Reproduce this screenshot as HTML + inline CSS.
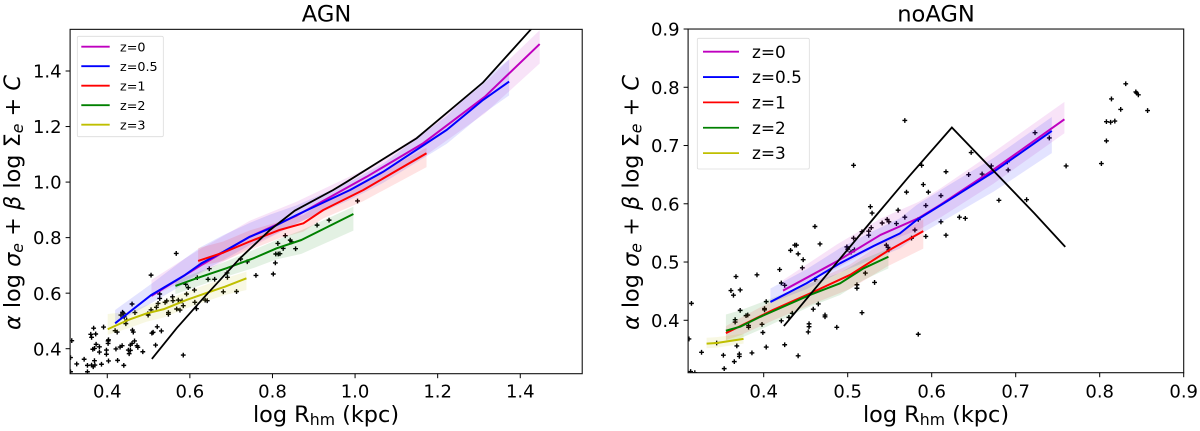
<!DOCTYPE html>
<html>
<head>
<meta charset="utf-8">
<title>AGN and noAGN scaling relations</title>
<style>
html,body{margin:0;padding:0;background:#fff;width:1200px;height:431px;overflow:hidden}
svg{display:block;font-family:"DejaVu Sans","Liberation Sans",sans-serif;fill:#000}
.it{font-style:italic}
</style>
</head>
<body>
<svg id="chart" width="1200" height="431" viewBox="0 0 1200 431" xmlns="http://www.w3.org/2000/svg">
<defs>
<clipPath id="clip-agn"><rect x="70" y="29" width="512.5" height="344.7"/></clipPath>
<clipPath id="clip-noagn"><rect x="688.3" y="29" width="496.7" height="343.7"/></clipPath>
</defs>
<rect width="1200" height="431" fill="#fff"/>
<g id="agn-panel"></g>
<g id="noagn-panel"></g>
<text x="326.5" y="21.7" font-size="22.6" text-anchor="middle">AGN</text>
<text x="936" y="21.7" font-size="22.6" text-anchor="middle">noAGN</text>
<text x="326" y="422" font-size="22.4" text-anchor="middle">log R<tspan font-size="15.7" dy="3">hm</tspan><tspan dy="-3"> (kpc)</tspan></text>
<text x="936" y="422" font-size="22.4" text-anchor="middle">log R<tspan font-size="15.7" dy="3">hm</tspan><tspan dy="-3"> (kpc)</tspan></text>
<text transform="translate(20,202.5) rotate(-90)" font-size="22.4" text-anchor="middle"><tspan class="it">α</tspan> log <tspan class="it">σ</tspan><tspan font-size="15.7" dy="3" class="it">e</tspan><tspan dy="-3"> + </tspan><tspan class="it">β</tspan> log Σ<tspan font-size="15.7" dy="3" class="it">e</tspan><tspan dy="-3"> + </tspan><tspan class="it">C</tspan></text>
<text transform="translate(638.3,202.5) rotate(-90)" font-size="22.4" text-anchor="middle"><tspan class="it">α</tspan> log <tspan class="it">σ</tspan><tspan font-size="15.7" dy="3" class="it">e</tspan><tspan dy="-3"> + </tspan><tspan class="it">β</tspan> log Σ<tspan font-size="15.7" dy="3" class="it">e</tspan><tspan dy="-3"> + </tspan><tspan class="it">C</tspan></text>
</svg>
<script>
const seriesLabels = ["z=0","z=0.5","z=1","z=2","z=3"];
const seriesColors = ["#bf00bf","#0000ff","#ff0000","#008000","#bfbf00"];

const agnXTicks = [0.4,0.6,0.8,1.0,1.2,1.4];
const agnYTicks = [0.4,0.6,0.8,1.0,1.2,1.4];
const noagnXTicks = [0.4,0.5,0.6,0.7,0.8,0.9];
const noagnYTicks = [0.4,0.5,0.6,0.7,0.8,0.9];

/* each vertex: x, y, band above, band below */
const agnZ0 = [[.507,.59,.058,.002],[.588,.665,.06,.02],[.628,.7015,.06,.03],[.745,.803,.058,.04],[.858,.879,.05,.03],[1.028,1.019,.03,.04],[1.165,1.14,.04,.05],[1.314,1.307,.05,.06],[1.447,1.497,.05,.07]];
const agnZ05 = [[.419,.4915,.048,0],[.507,.594,.04,.03],[.588,.665,.06,.03],[.628,.7075,.06,.03],[.681,.749,.06,.03],[.745,.803,.05,.03],[.794,.833,.05,.03],[.858,.881,.035,.03],[.988,.9715,.03,.035],[1.068,1.037,.03,.04],[1.222,1.188,.05,.05],[1.31,1.296,.07,.05],[1.373,1.362,.08,.05]];
const agnZ1 = [[.62,.716,.046,.02],[.681,.746,.04,.03],[.745,.786,.04,.03],[.818,.828,.03,.03],[.875,.8515,.03,.03],[.923,.8995,.03,.03],[1.02,.9715,.03,.04],[1.173,1.104,.02,.05]];
const agnZ2 = [[.565,.626,.02,.03],[.616,.6535,.02,.03],[.689,.69,.025,.03],[.754,.7255,.03,.035],[.81,.7615,.03,.04],[.87,.7915,.035,.05],[.996,.885,.026,.06]];
const agnZ3 = [[.401,.47,.055,.02],[.45,.503,.03,.03],[.495,.527,.03,.03],[.536,.542,.03,.03],[.592,.5755,.03,.03],[.649,.6055,.03,.03],[.685,.6235,.03,.03],[.737,.6535,.024,.042]];
const agnBlack = [[.508,.363],[.568,.474],[.632,.581],[.721,.725],[.794,.8275],[.854,.897],[.947,.9715],[.98,1.001],[1.149,1.158],[1.31,1.359],[1.45,1.59]];

const noagnZ0 = [[.423,.451,.018,.002],[.487,.501,.029,.012],[.539,.5465,.028,.016],[.584,.575,.028,.02],[.61,.598,.028,.022],[.673,.658,.03,.024],[.758,.745,.03,.024]];
const noagnZ05 = [[.408,.4315,.023,.002],[.451,.4635,.024,.01],[.491,.498,.026,.016],[.531,.5276,.026,.022],[.562,.549,.026,.026],[.582,.572,.026,.028],[.618,.604,.026,.03],[.674,.655,.024,.034],[.743,.725,.024,.038]];
const noagnZ1 = [[.355,.378,.012,.012],[.372,.39,.014,.016],[.4115,.418,.016,.018],[.455,.446,.018,.02],[.503,.478,.018,.024],[.5465,.518,.02,.026],[.59,.553,.02,.03]];
const noagnZ2 = [[.355,.382,.028,.018],[.372,.389,.028,.02],[.396,.406,.024,.022],[.455,.4435,.02,.02],[.491,.4635,.018,.02],[.5187,.489,.016,.02],[.5485,.509,.014,.02]];
const noagnZ3 = [[.332,.36,.01,.008],[.344,.361,.01,.008],[.376,.368,.009,.008]];
const noagnBlack = [[.424,.39],[.535,.582],[.573,.647],[.624,.731],[.722,.584],[.759,.526]];

const agnPoints = [[.314,.429],[.311,.368],[.326,.345],[.344,.362],[.352,.34],[.352,.317],[.362,.341],[.311,.317],[.367,.474],[.36,.452],[.372,.453],[.362,.441],[.391,.478],[.373,.416],[.381,.407],[.365,.398],[.369,.401],[.381,.388],[.398,.395],[.398,.38],[.402,.419],[.403,.432],[.402,.428],[.421,.399],[.431,.406],[.436,.411],[.369,.357],[.37,.341],[.366,.335],[.386,.344],[.403,.356],[.425,.358],[.44,.34],[.419,.465],[.424,.46],[.461,.467],[.463,.46],[.466,.428],[.46,.419],[.456,.413],[.451,.395],[.456,.394],[.453,.382],[.472,.411],[.474,.405],[.486,.389],[.433,.521],[.439,.527],[.437,.531],[.441,.515],[.445,.49],[.447,.503],[.46,.561],[.467,.53],[.498,.526],[.499,.521],[.508,.456],[.511,.459],[.521,.479],[.531,.464],[.517,.413],[.506,.665],[.506,.54],[.527,.597],[.527,.581],[.519,.549],[.523,.563],[.54,.567],[.544,.572],[.548,.53],[.548,.524],[.559,.573],[.558,.587],[.572,.575],[.568,.543],[.576,.539],[.581,.572],[.584,.555],[.592,.597],[.596,.62],[.59,.632],[.611,.611],[.616,.544],[.612,.567],[.567,.743],[.584,.377],[.618,.656],[.647,.688],[.644,.65],[.637,.575],[.642,.573],[.66,.65],[.681,.605],[.69,.673],[.691,.657],[.713,.606],[.723,.723],[.739,.713],[.76,.664],[.802,.669],[.807,.709],[.813,.779],[.808,.741],[.814,.741],[.818,.742],[.826,.761],[.831,.807],[.843,.791],[.846,.785],[.856,.76],[.908,.845],[.937,.863],[1.006,.932]];

const noagnPoints = [[.314,.429],[.311,.368],[.326,.345],[.313,.312],[.318,.31],[.344,.361],[.352,.34],[.353,.317],[.365,.329],[.371,.338],[.371,.342],[.368,.356],[.386,.344],[.403,.354],[.425,.358],[.441,.339],[.366,.397],[.366,.401],[.372,.417],[.379,.408],[.381,.409],[.382,.388],[.382,.391],[.398,.393],[.399,.379],[.401,.42],[.401,.418],[.403,.432],[.361,.451],[.364,.443],[.367,.475],[.372,.452],[.392,.478],[.419,.487],[.421,.464],[.425,.46],[.421,.399],[.43,.405],[.434,.412],[.432,.52],[.437,.529],[.439,.529],[.441,.514],[.447,.504],[.446,.49],[.461,.561],[.467,.531],[.459,.419],[.465,.428],[.461,.47],[.454,.394],[.454,.389],[.453,.38],[.473,.409],[.473,.406],[.487,.388],[.499,.526],[.5,.522],[.504,.517],[.508,.521],[.507,.541],[.511,.461],[.511,.455],[.521,.481],[.532,.465],[.517,.413],[.517,.552],[.525,.553],[.525,.546],[.528,.559],[.541,.567],[.547,.573],[.549,.569],[.558,.566],[.568,.577],[.546,.529],[.548,.525],[.549,.521],[.507,.666],[.568,.743],[.527,.595],[.529,.584],[.56,.589],[.57,.62],[.588,.666],[.59,.633],[.596,.62],[.593,.597],[.611,.614],[.617,.655],[.647,.688],[.644,.65],[.66,.651],[.671,.665],[.68,.606],[.69,.672],[.691,.658],[.713,.607],[.723,.722],[.74,.713],[.76,.665],[.802,.669],[.808,.708],[.808,.741],[.813,.74],[.818,.742],[.814,.78],[.825,.762],[.831,.806],[.843,.792],[.844,.79],[.846,.787],[.857,.76],[.576,.541],[.58,.555],[.584,.573],[.593,.544],[.611,.569],[.617,.546],[.633,.577],[.64,.575],[.584,.376]];

const NS = "http://www.w3.org/2000/svg";

function make(tag, parent) {
  const el = document.createElementNS(NS, tag);
  parent.appendChild(el);
  return el;
}

function drawPanel(cfg) {
  const root = document.getElementById(cfg.id);
  const sx = v => cfg.x0 + (v - cfg.xMin) * cfg.kx;
  const sy = v => cfg.y0 - (v - cfg.yMin) * cfg.ky;
  const left = sx(cfg.xMin), right = sx(cfg.xMax);
  const bottom = sy(cfg.yMin), top = sy(cfg.yMax);

  const plot = make("g", root);
  plot.setAttribute("clip-path", "url(#" + cfg.clip + ")");
  
  

  cfg.points.forEach(p => {
    const m = make("path", plot);
    const cx = sx(p[0]), cy = sy(p[1]);
    m.setAttribute("d", "M" + (cx - 2.4) + " " + cy + "H" + (cx + 2.4) + "M" + cx + " " + (cy - 2.4) + "V" + (cy + 2.4));
    m.setAttribute("stroke", "#000");
    m.setAttribute("stroke-width", "1.4");
    m.setAttribute("fill", "none");
    
    
  });

  cfg.series.forEach((s, i) => {
    const band = make("polygon", plot);
    const upper = s.map(v => sx(v[0]).toFixed(2) + "," + sy(v[1] + v[2]).toFixed(2));
    const lower = s.slice().reverse().map(v => sx(v[0]).toFixed(2) + "," + sy(v[1] - v[3]).toFixed(2));
    band.setAttribute("points", upper.concat(lower).join(" "));
    band.setAttribute("fill", seriesColors[i]);
    band.setAttribute("fill-opacity", "0.11");
    
    
  });

  cfg.series.forEach((s, i) => {
    const line = make("polyline", plot);
    line.setAttribute("points", s.map(v => sx(v[0]).toFixed(2) + "," + sy(v[1]).toFixed(2)).join(" "));
    line.setAttribute("fill", "none");
    line.setAttribute("stroke", seriesColors[i]);
    line.setAttribute("stroke-width", "2");
    line.setAttribute("stroke-linejoin", "round");
    
    
  });

  const black = make("polyline", plot);
  black.setAttribute("points", cfg.black.map(v => sx(v[0]).toFixed(2) + "," + sy(v[1]).toFixed(2)).join(" "));
  black.setAttribute("fill", "none");
  black.setAttribute("stroke", "#000");
  black.setAttribute("stroke-width", "1.8");
  
  

  const frame = make("rect", root);
  frame.setAttribute("x", left);
  frame.setAttribute("y", top);
  frame.setAttribute("width", right - left);
  frame.setAttribute("height", bottom - top);
  frame.setAttribute("fill", "none");
  frame.setAttribute("stroke", "#111");
  frame.setAttribute("stroke-width", "1.1");
  
  

  cfg.xTicks.forEach(t => {
    const tick = make("line", root);
    tick.setAttribute("x1", sx(t));
    tick.setAttribute("x2", sx(t));
    tick.setAttribute("y1", bottom);
    tick.setAttribute("y2", bottom + 4.5);
    tick.setAttribute("stroke", "#000");
    tick.setAttribute("stroke-width", "1");
    
    
    const label = make("text", root);
    label.setAttribute("x", sx(t));
    label.setAttribute("y", 397.5);
    label.setAttribute("font-size", "18");
    label.setAttribute("text-anchor", "middle");
    label.textContent = t.toFixed(1);
    
    
  });

  cfg.yTicks.forEach(t => {
    const tick = make("line", root);
    tick.setAttribute("x1", left - 4.5);
    tick.setAttribute("x2", left);
    tick.setAttribute("y1", sy(t));
    tick.setAttribute("y2", sy(t));
    tick.setAttribute("stroke", "#000");
    tick.setAttribute("stroke-width", "1");
    
    
    const label = make("text", root);
    label.setAttribute("x", left - 8.5);
    label.setAttribute("y", sy(t) + 6.6);
    label.setAttribute("font-size", "18");
    label.setAttribute("text-anchor", "end");
    label.textContent = t.toFixed(1);
    
    
  });

  const lg = cfg.legend;
  const legend = make("g", root);
  
  
  const box = make("rect", legend);
  box.setAttribute("x", lg.x);
  box.setAttribute("y", lg.y);
  box.setAttribute("width", lg.w);
  box.setAttribute("height", lg.h);
  box.setAttribute("rx", "1.5");
  box.setAttribute("fill", "#fff");
  box.setAttribute("fill-opacity", "0.8");
  box.setAttribute("stroke", "#dcdcdc");
  box.setAttribute("stroke-width", "0.8");
  
  
  seriesLabels.forEach((name, i) => {
    const yy = lg.first + i * lg.step;
    const swatch = make("line", legend);
    swatch.setAttribute("x1", lg.lx1);
    swatch.setAttribute("x2", lg.lx2);
    swatch.setAttribute("y1", yy);
    swatch.setAttribute("y2", yy);
    swatch.setAttribute("stroke", seriesColors[i]);
    swatch.setAttribute("stroke-width", "1.8");
    
    
    const text = make("text", legend);
    text.setAttribute("x", lg.tx);
    text.setAttribute("y", yy + lg.size * 0.36);
    text.setAttribute("font-size", lg.size);
    text.textContent = name;
    
    
  });
}

drawPanel({
  id: "agn-panel", clip: "clip-agn",
  xMin: 0.31, xMax: 1.55, yMin: 0.31, yMax: 1.55,
  x0: 70.1, kx: 413, y0: 373.7, ky: 277.7,
  xTicks: agnXTicks, yTicks: agnYTicks,
  points: agnPoints, black: agnBlack,
  series: [agnZ0, agnZ05, agnZ1, agnZ2, agnZ3],
  legend: {x: 77.3, y: 36.3, w: 86, h: 100.4, lx1: 81.3, lx2: 109.7, tx: 120, first: 46.7, step: 19.5, size: 12.75}
});

drawPanel({
  id: "noagn-panel", clip: "clip-noagn",
  xMin: 0.31, xMax: 0.9, yMin: 0.31, yMax: 0.9,
  x0: 688.1, kx: 840, y0: 372.7, ky: 582.5,
  xTicks: noagnXTicks, yTicks: noagnYTicks,
  points: noagnPoints, black: noagnBlack,
  series: [noagnZ0, noagnZ05, noagnZ1, noagnZ2, noagnZ3],
  legend: {x: 697.3, y: 38.3, w: 112, h: 130.7, lx1: 703, lx2: 739, tx: 752, first: 51.7, step: 25.35, size: 16.9}
});
</script>
</body>
</html>
